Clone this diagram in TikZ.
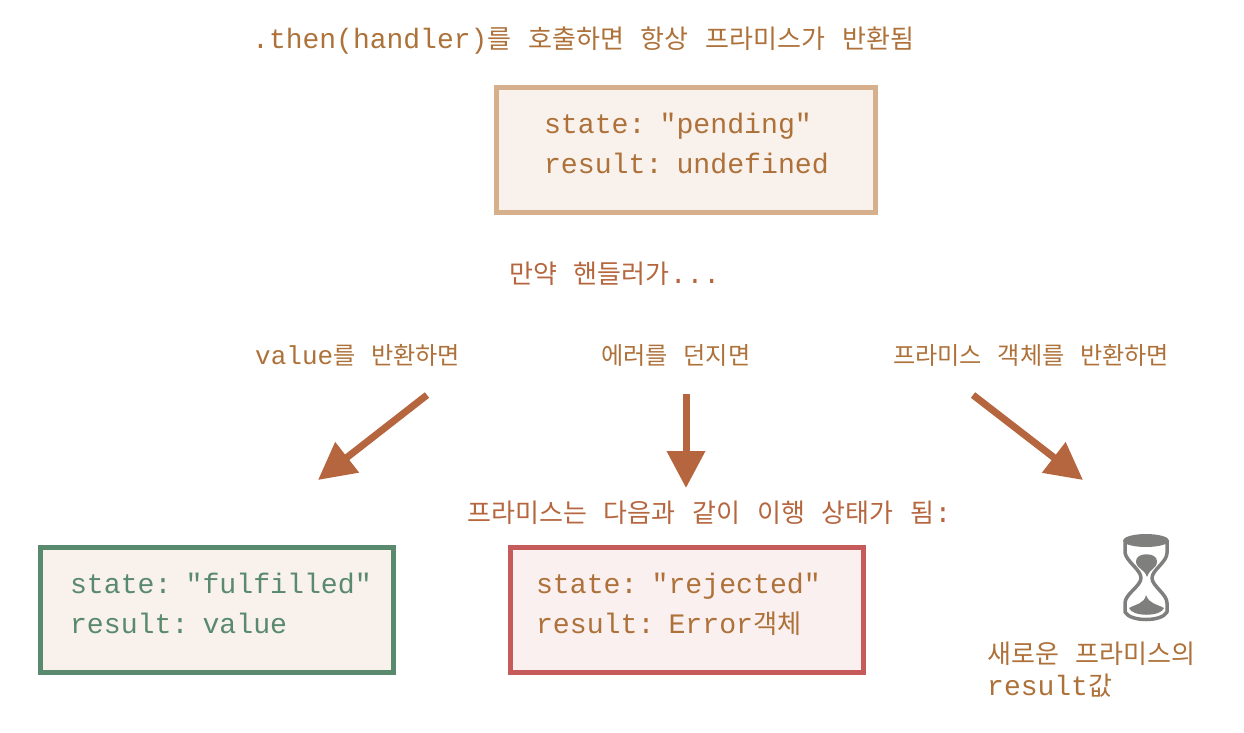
\documentclass[tikz,border=0pt]{standalone}
\usepackage{fontspec}
\usepackage{xcolor}
\setmonofont{Liberation Mono}
\newfontfamily\krfont[Scale=0.93]{Noto Sans CJK KR}
\newcommand{\kr}[1]{{\krfont #1}}
\usetikzlibrary{arrows.meta,positioning}
\definecolor{textbrown}{HTML}{AD7139}
\definecolor{labelred}{HTML}{B5663F}
\definecolor{pendingedge}{HTML}{D6B08C}
\definecolor{pendingfill}{HTML}{F9F2EC}
\definecolor{greenedge}{HTML}{5A8A6E}
\definecolor{rededge}{HTML}{C65B5B}
\definecolor{redfill}{HTML}{FBF0F0}
\definecolor{glassgray}{HTML}{7F7F7D}
\tikzset{
  lbl/.style={anchor=base west, inner sep=0pt, text=textbrown, font=\fontsize{28}{32}\selectfont\ttfamily},
  lblsmall/.style={lbl, font=\fontsize{26}{32}\selectfont\ttfamily},
  lblred/.style={lbl, text=labelred},
  statebox/.style={draw, line width=5pt, anchor=north west, align=left, minimum height=125pt, inner ysep=0pt, text depth=54pt, text=textbrown, font=\fontsize{28.2}{40}\selectfont\ttfamily},
  bigarrow/.style={draw=labelred, line width=7pt, -{Triangle[length=37pt,width=37pt]}}
}
\begin{document}
\begin{tikzpicture}[x=1pt,y=-1pt]
  \useasboundingbox (0,0) rectangle (1244,732);
  \node [lbl] at (252,48) (title) {.then(handler)\kr{를} \kr{호출하면} \kr{항상} \kr{프라미스가} \kr{반환됨}};
  \node [statebox, draw=pendingedge, fill=pendingfill, inner xsep=47.5pt, text width=284pt] at (494,85) (pending) {state: "pending"\\\mbox{result: undefined}};
  \node [lblred] at (509,283) (ifhandler) {\kr{만약} \kr{핸들러가}...};
  \node [lblsmall] at (255,364) (retvalue) {value\kr{를} \kr{반환하면}};
  \node [lblsmall] at (601,364) (throwerr) {\kr{에러를} \kr{던지면}};
  \node [lblsmall] at (893,364) (retpromise) {\kr{프라미스} \kr{객체를} \kr{반환하면}};
  \node [lblred] at (467,522) (becomes) {\kr{프라미스는} \kr{다음과} \kr{같이} \kr{이행} \kr{상태가} \kr{됨}:};
  \node [statebox, draw=greenedge, fill=pendingfill, text=greenedge, inner xsep=29.5pt, text width=294pt] at (38,545) (fulfilled) {\mbox{state: "fulfilled"}\\result: value};
  \node [statebox, draw=rededge, fill=redfill, inner xsep=25.5pt, text width=302pt] at (508,545) (rejected) {state: "rejected"\\result: Error\kr{객체}};
  \node [lbl, align=left, anchor=north west] at (987,642) (newresult) {\kr{새로운} \kr{프라미스의}\\result\kr{값}};
  % arrows
  \coordinate (a1) at (427,395);
  \coordinate (b1) at (318,480);
  \coordinate (a2) at (686,394);
  \coordinate (b2) at (686,488);
  \coordinate (a3) at (973,395);
  \coordinate (b3) at (1083,480);
  \draw [bigarrow] (a1) -- (b1);
  \draw [bigarrow] (a2) -- (b2);
  \draw [bigarrow] (a3) -- (b3);
  % hourglass
  \fill [glassgray] (1146,540.5) ellipse [x radius=23, y radius=6.5];
  \draw [glassgray, line width=3.5pt, line join=round] (1125,541) -- (1125,553) .. controls (1127,562) and (1141,570) .. (1141,578) .. controls (1141,586) and (1125,594) .. (1125,603) -- (1125,612) .. controls (1130,622) and (1162,622) .. (1167,612) -- (1167,603) .. controls (1167,594) and (1152,586) .. (1152,578) .. controls (1152,570) and (1167,562) .. (1167,553) -- (1167,541);
  \fill [glassgray] (1136,561) .. controls (1136,552) and (1157,552) .. (1157,561) .. controls (1157,569) and (1150,568) .. (1147,577) .. controls (1144,568) and (1136,569) .. (1136,561) -- cycle;
  \fill [glassgray] (1129,608) .. controls (1136,604) and (1144,604) .. (1146,595) .. controls (1149,604) and (1157,604) .. (1164,608) .. controls (1161,617) and (1132,617) .. (1129,608) -- cycle;
\end{tikzpicture}
\end{document}
